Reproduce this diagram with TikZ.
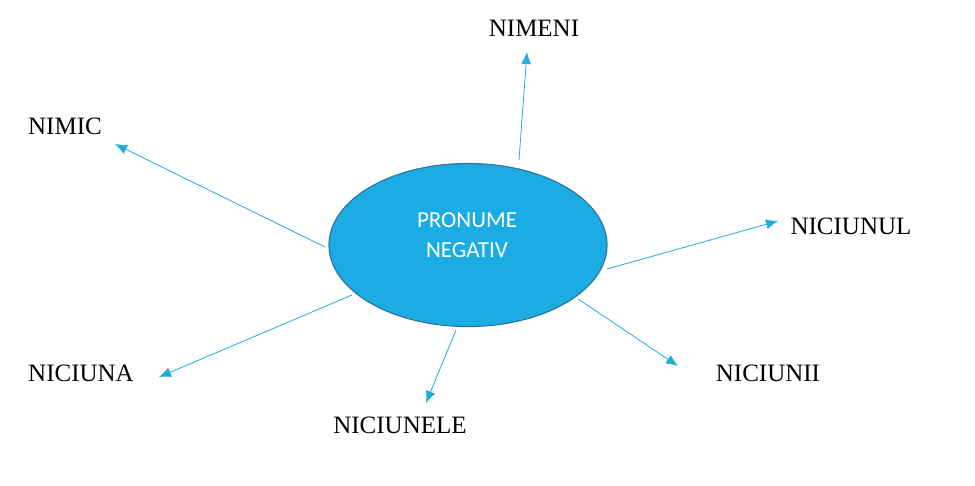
\documentclass[tikz,border=0pt]{standalone}
\usepackage{fontspec}
\setmainfont{Liberation Serif}
\newfontfamily\bubblefont{Carlito}
\usetikzlibrary{shapes,arrows.meta,positioning}
\definecolor{bubblefill}{RGB}{26,172,226}
\definecolor{bubbleline}{RGB}{44,118,160}
\definecolor{arrowline}{RGB}{32,172,216}

\begin{document}
\begin{tikzpicture}[x=1pt,y=-1pt,
	bubble/.style={ellipse, draw=bubbleline, line width=1.2pt, fill=bubblefill, minimum width=278pt, minimum height=163pt, inner sep=0pt},
	bubbletext/.style={text=white, font=\bubblefont\fontsize{23}{30}\selectfont, align=center, inner sep=0pt},
	word/.style={font=\fontsize{25}{30}\selectfont, inner sep=0pt},
	link/.style={arrowline, line width=0.8pt, -{Latex[length=12pt,width=10pt]}}]
				\useasboundingbox (0,0) rectangle (975,486);
				\node[bubble] (neg) at (468,245) {};
				\node[bubbletext] (negtext) at (467,235) {PRONUME\\NEGATIV};
				% the six pronouns
				\node[word] (nimeni) at (534,28) {NIMENI};
				\node[word] (nimic) at (65,126) {NIMIC};
				\node[word] (niciunul) at (851,226) {NICIUNUL};
				\node[word] (niciunii) at (768,373) {NICIUNII};
				\node[word] (niciunele) at (400,425) {NICIUNELE};
				\node[word] (niciuna) at (81,373) {NICIUNA};
				% arrow ends
				\coordinate (s1) at (519,160); \coordinate (e1) at (527,52);
				\coordinate (s2) at (325,247); \coordinate (e2) at (115,144);
				\coordinate (s3) at (607,269); \coordinate (e3) at (778,221);
				\coordinate (s4) at (578,299); \coordinate (e4) at (678,366);
				\coordinate (s5) at (456,330); \coordinate (e5) at (426,403);
				\coordinate (s6) at (352,295); \coordinate (e6) at (159,377);
				\foreach \i in {1,...,6}
					\draw[link] (s\i) -- (e\i);
			\end{tikzpicture}
\end{document}
